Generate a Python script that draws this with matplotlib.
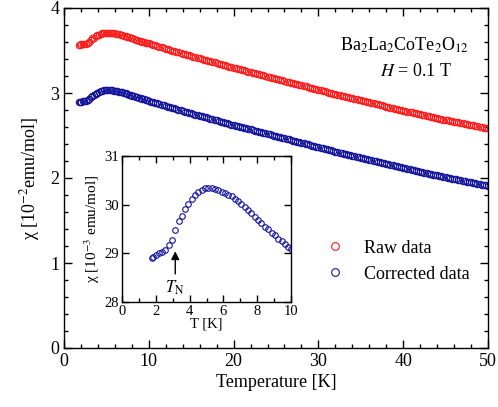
import numpy as np
import matplotlib
matplotlib.use("Agg")
import matplotlib.pyplot as plt
from matplotlib.ticker import MultipleLocator

# ---------------- data ----------------
# inset: corrected susceptibility, 10^-3 emu/mol
T_inset = [1.75, 1.86, 2.02, 2.19, 2.36, 2.54, 2.79, 2.98, 3.15, 3.35, 3.55, 3.75,
           3.93, 4.12, 4.32, 4.51, 4.71, 4.90, 5.10, 5.30, 5.50, 5.70, 5.89, 6.08,
           6.28, 6.48, 6.67, 6.87, 7.07, 7.26, 7.46, 7.66, 7.86, 8.05, 8.25, 8.45,
           8.65, 8.85, 9.05, 9.25, 9.44, 9.64, 9.83, 10.0]
chi_inset = [28.91, 28.93, 28.96, 29.00, 29.03, 29.07, 29.18, 29.27, 29.48, 29.67, 29.77, 29.91,
             30.02, 30.12, 30.20, 30.26, 30.31, 30.34, 30.35, 30.345, 30.33, 30.31, 30.27, 30.24,
             30.20, 30.17, 30.11, 30.07, 30.01, 29.95, 29.89, 29.82, 29.75, 29.68, 29.63, 29.54,
             29.49, 29.42, 29.37, 29.30, 29.25, 29.19, 29.13, 29.08]

# main plot, T > 10 K (10^-2 emu/mol)
T_high = [10.25, 10.5, 10.75, 11.0, 11.25, 11.5, 11.75, 12.0, 12.25, 12.5, 12.75, 13.0,
          13.25, 13.5, 13.75, 14.0, 14.25, 14.5, 14.75, 15.0, 15.25, 15.5, 15.75, 16.0,
          16.25, 16.5, 16.75, 17.0, 17.25, 17.5, 17.75, 18.0, 18.25, 18.5, 18.75, 19.0,
          19.25, 19.5, 19.75, 20.0, 20.25, 20.5, 20.75, 21.0, 21.25, 21.5, 21.75, 22.0,
          22.25, 22.5, 22.75, 23.0, 23.25, 23.5, 23.75, 24.0, 24.25, 24.5, 24.75, 25.0,
          25.25, 25.5, 25.75, 26.0, 26.25, 26.5, 26.75, 27.0, 27.25, 27.5, 27.75, 28.0,
          28.25, 28.5, 28.75, 29.0, 29.25, 29.5, 29.75, 30.0, 30.25, 30.5, 30.75, 31.0,
          31.25, 31.5, 31.75, 32.0, 32.25, 32.5, 32.75, 33.0, 33.25, 33.5, 33.75, 34.0,
          34.25, 34.5, 34.75, 35.0, 35.25, 35.5, 35.75, 36.0, 36.25, 36.5, 36.75, 37.0,
          37.25, 37.5, 37.75, 38.0, 38.25, 38.5, 38.75, 39.0, 39.25, 39.5, 39.75, 40.0,
          40.25, 40.5, 40.75, 41.0, 41.25, 41.5, 41.75, 42.0, 42.25, 42.5, 42.75, 43.0,
          43.25, 43.5, 43.75, 44.0, 44.25, 44.5, 44.75, 45.0, 45.25, 45.5, 45.75, 46.0,
          46.25, 46.5, 46.75, 47.0, 47.25, 47.5, 47.75, 48.0, 48.25, 48.5, 48.75, 49.0,
          49.25, 49.5, 49.75, 50.0]
corrected_high = [2.900, 2.893, 2.885, 2.878, 2.870, 2.863, 2.855, 2.848, 2.840, 2.833, 2.825, 2.818,
                  2.810, 2.803, 2.796, 2.789, 2.782, 2.775, 2.768, 2.761, 2.754, 2.747, 2.740, 2.733,
                  2.726, 2.719, 2.712, 2.705, 2.698, 2.691, 2.684, 2.677, 2.670, 2.663, 2.656, 2.649,
                  2.642, 2.636, 2.629, 2.623, 2.616, 2.610, 2.603, 2.597, 2.590, 2.584, 2.577, 2.571,
                  2.564, 2.558, 2.551, 2.545, 2.538, 2.532, 2.525, 2.519, 2.512, 2.506, 2.499, 2.493,
                  2.486, 2.480, 2.473, 2.467, 2.460, 2.454, 2.447, 2.441, 2.434, 2.428, 2.421, 2.415,
                  2.408, 2.402, 2.395, 2.389, 2.382, 2.376, 2.369, 2.363, 2.356, 2.350, 2.343, 2.337,
                  2.330, 2.324, 2.317, 2.311, 2.304, 2.298, 2.292, 2.286, 2.280, 2.274, 2.268, 2.262,
                  2.256, 2.250, 2.244, 2.238, 2.232, 2.226, 2.220, 2.214, 2.208, 2.202, 2.196, 2.190,
                  2.184, 2.178, 2.172, 2.166, 2.160, 2.154, 2.148, 2.142, 2.136, 2.130, 2.124, 2.118,
                  2.112, 2.107, 2.101, 2.096, 2.090, 2.085, 2.079, 2.074, 2.068, 2.063, 2.057, 2.052,
                  2.046, 2.041, 2.035, 2.030, 2.024, 2.019, 2.013, 2.008, 2.003, 1.998, 1.993, 1.988,
                  1.983, 1.978, 1.973, 1.968, 1.963, 1.958, 1.953, 1.948, 1.943, 1.938, 1.933, 1.928,
                  1.923, 1.918, 1.913, 1.908]
raw_low = [3.566, 3.568, 3.571, 3.575, 3.578, 3.582, 3.593, 3.602, 3.623, 3.642, 3.652, 3.666,
           3.677, 3.687, 3.695, 3.701, 3.706, 3.709, 3.710, 3.709, 3.708, 3.706, 3.702, 3.699,
           3.695, 3.692, 3.686, 3.682, 3.676, 3.670, 3.664, 3.657, 3.650, 3.643, 3.638, 3.629,
           3.624, 3.617, 3.612, 3.605, 3.600, 3.594, 3.588, 3.583]
raw_high = [3.575, 3.568, 3.560, 3.553, 3.545, 3.538, 3.530, 3.523, 3.515, 3.508, 3.500, 3.493,
            3.485, 3.478, 3.471, 3.464, 3.457, 3.450, 3.443, 3.436, 3.429, 3.422, 3.415, 3.408,
            3.401, 3.394, 3.387, 3.380, 3.373, 3.366, 3.359, 3.352, 3.345, 3.338, 3.331, 3.324,
            3.317, 3.311, 3.304, 3.298, 3.291, 3.285, 3.278, 3.272, 3.265, 3.259, 3.252, 3.246,
            3.239, 3.233, 3.226, 3.220, 3.213, 3.207, 3.200, 3.194, 3.187, 3.181, 3.174, 3.168,
            3.161, 3.155, 3.148, 3.142, 3.135, 3.129, 3.122, 3.116, 3.109, 3.103, 3.096, 3.090,
            3.083, 3.077, 3.070, 3.064, 3.057, 3.051, 3.044, 3.038, 3.031, 3.025, 3.018, 3.012,
            3.005, 2.999, 2.992, 2.986, 2.979, 2.973, 2.967, 2.961, 2.955, 2.949, 2.943, 2.937,
            2.931, 2.925, 2.919, 2.913, 2.907, 2.901, 2.895, 2.889, 2.883, 2.877, 2.871, 2.865,
            2.859, 2.853, 2.847, 2.841, 2.835, 2.829, 2.823, 2.817, 2.811, 2.805, 2.799, 2.793,
            2.787, 2.782, 2.776, 2.771, 2.765, 2.760, 2.754, 2.749, 2.743, 2.738, 2.732, 2.727,
            2.721, 2.716, 2.710, 2.705, 2.699, 2.694, 2.688, 2.683, 2.678, 2.673, 2.668, 2.663,
            2.658, 2.653, 2.648, 2.643, 2.638, 2.633, 2.628, 2.623, 2.618, 2.613, 2.608, 2.603,
            2.598, 2.593, 2.588, 2.583]

T_main = np.array(T_inset + T_high)
corrected_main = np.concatenate([np.array(chi_inset) * 0.1, corrected_high])
raw_main = np.array(raw_low + raw_high)

RED = "#ff1a1a"
BLUE = "#12129a"

plt.rcParams['font.family'] = ['Liberation Serif', 'DejaVu Serif']
plt.rcParams['mathtext.fontset'] = 'stix'

fig = plt.figure(figsize=(4.98, 4.07), dpi=100)
ax = fig.add_axes([64/498, 1-348/407, 424/498, 340/407])

ax.plot(T_main, raw_main, 'o', mfc='none', mec=RED, ms=4.6, mew=0.8, label='Raw data')
ax.plot(T_main, corrected_main, 'o', mfc='none', mec=BLUE, ms=4.6, mew=0.8, label='Corrected data')

ax.set_xlim(0, 50)
ax.set_ylim(0, 4)
ax.xaxis.set_major_locator(MultipleLocator(10))
ax.xaxis.set_minor_locator(MultipleLocator(2))
ax.yaxis.set_major_locator(MultipleLocator(1))
ax.yaxis.set_minor_locator(MultipleLocator(0.2))
ax.tick_params(which='both', direction='in', top=True, right=True, labelsize=13, width=1.0)
ax.tick_params(which='major', length=6)
ax.tick_params(which='minor', length=3)
for s in ax.spines.values():
    s.set_linewidth(1.0)
ax.set_xlabel('Temperature [K]', fontsize=13, labelpad=3)
ax.set_ylabel('χ [10$^{-2}$emu/mol]', fontsize=13, labelpad=6)

ax.text(0.955, 0.891, r'Ba$_2$La$_2$CoTe$_2$O$_{12}$', transform=ax.transAxes,
        ha='right', va='center', fontsize=13)
ax.text(0.915, 0.812, r'$H$ = 0.1 T', transform=ax.transAxes,
        ha='right', va='center', fontsize=13)

leg = ax.legend(loc='upper left', bbox_to_anchor=(0.597, 0.345), frameon=False,
                fontsize=13, handlelength=1.0, handletextpad=1.1, labelspacing=0.5,
                borderpad=0, markerscale=1.2)

# inset
ins = fig.add_axes([122/498, 1-302/407, 169/498, 146/407])
ins.plot(T_inset, chi_inset, 'o', mfc='none', mec=BLUE, ms=4.0, mew=0.8)
ins.set_xlim(0, 10)
ins.set_ylim(28, 31)
ins.xaxis.set_major_locator(MultipleLocator(2))
ins.xaxis.set_minor_locator(MultipleLocator(1))
ins.yaxis.set_major_locator(MultipleLocator(1))
ins.tick_params(which='both', direction='in', top=True, right=True, labelsize=10.5, width=1.0, pad=2)
ins.tick_params(which='major', length=5)
ins.tick_params(which='minor', length=3)
for s in ins.spines.values():
    s.set_linewidth(1.0)
ins.set_xlabel('T [K]', fontsize=10.5, labelpad=0)
ins.set_ylabel('χ [10$^{-3}$ emu/mol]', fontsize=11, labelpad=2)
ins.annotate('', xy=(3.15, 29.1), xytext=(3.15, 28.52),
             arrowprops=dict(arrowstyle='-|>', color='black', lw=1.0, mutation_scale=12))
ins.text(3.15, 28.3, r'$T_\mathrm{N}$', ha='center', va='center', fontsize=12)

fig.savefig('out.png', dpi=100)
